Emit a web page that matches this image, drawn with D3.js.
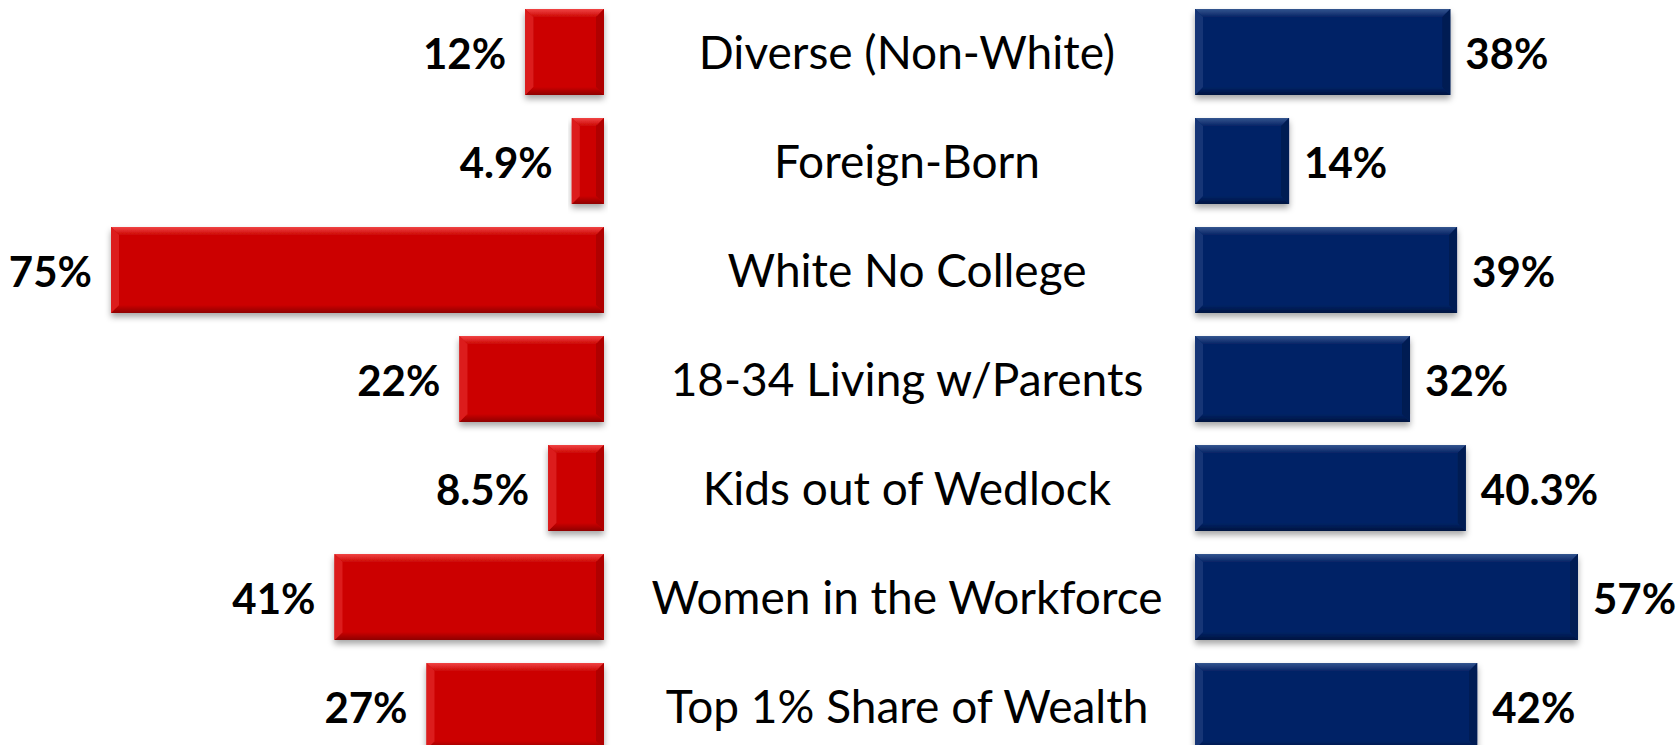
<!DOCTYPE html>
<html lang="en">
  <head>
    <title>Red vs Blue</title>
    <meta charset="utf-8">
    <script src="https://cdn.jsdelivr.net/npm/d3@7"></script>
  </head>
  <style>
    body, html {
      margin: 0;
      padding: 0;
      background: #fff;
      overflow: hidden;
    }
    svg {
      display: block;
    }
    .cat {
      font-family: "Lato", "Open Sans", sans-serif;
      font-size: 46px;
      fill: #000;
    }
    .val {
      font-family: "Lato", "Open Sans", sans-serif;
      font-weight: bold;
      font-size: 42px;
      fill: #000;
    }
  </style>
  <body>
    <svg></svg>
  </body>
  <script>

    // data
    const categories = [
      "Diverse (Non-White)",
      "Foreign-Born",
      "White No College",
      "18-34 Living w/Parents",
      "Kids out of Wedlock",
      "Women in the Workforce",
      "Top 1% Share of Wealth"
    ]
    const redValues = [12, 4.9, 75, 22, 8.5, 41, 27]
    const redLabels = ["12%", "4.9%", "75%", "22%", "8.5%", "41%", "27%"]
    const blueValues = [38, 14, 39, 32, 40.3, 57, 42]
    const blueLabels = ["38%", "14%", "39%", "32%", "40.3%", "57%", "42%"]

    const width = 1679
    const height = 745
    const bevel = 8

    const svg = d3.select('svg')
      .attr('width', width)
      .attr('height', height)

    const y = d3.scaleBand()
      .domain(categories)
      .range([-2.5, 760.5])
      .paddingInner(0.211)
      .paddingOuter(0.1055)

    // the two halves were drawn with slightly different scales
    const xRed = d3.scaleLinear().domain([0, 75]).range([604, 111])
    const xBlue = d3.scaleLinear().domain([0, 57]).range([1195, 1578])

    const defs = svg.append('defs')

    const shadow = defs.append('filter')
      .attr('id', 'shadow')
      .attr('x', '-10%').attr('y', '-10%')
      .attr('width', '120%').attr('height', '130%')
    shadow.append('feDropShadow')
      .attr('dx', 0)
      .attr('dy', 4)
      .attr('stdDeviation', 3)
      .attr('flood-color', '#000')
      .attr('flood-opacity', 0.35)

    const palettes = {
      red:  { main: '#cc0605', top: '#f04444', left: '#dc1e1e', right: '#b00404', bottom: '#8e0303' },
      blue: { main: '#052466', top: '#35558f', left: '#163676', right: '#041c52', bottom: '#021440' }
    }

    // vertical gradients for top/bottom bevel strips
    Object.keys(palettes).forEach(function(k) {
      const p = palettes[k]
      const gTop = defs.append('linearGradient')
        .attr('id', k + 'Top').attr('x1', 0).attr('y1', 0).attr('x2', 0).attr('y2', 1)
      gTop.append('stop').attr('offset', '0%').attr('stop-color', p.top)
      gTop.append('stop').attr('offset', '100%').attr('stop-color', p.main)
      const gBot = defs.append('linearGradient')
        .attr('id', k + 'Bottom').attr('x1', 0).attr('y1', 0).attr('x2', 0).attr('y2', 1)
      gBot.append('stop').attr('offset', '0%').attr('stop-color', p.main)
      gBot.append('stop').attr('offset', '100%').attr('stop-color', p.bottom)
    })

    const drawBar = function(g, x0, x1, y0, h, key) {
      const p = palettes[key]
      const y1 = y0 + h
      const b = Math.min(bevel, (x1 - x0) / 2)
      const bar = g.append('g').attr('filter', 'url(#shadow)')
      bar.append('rect')
        .attr('x', x0).attr('y', y0)
        .attr('width', x1 - x0).attr('height', h)
        .attr('fill', p.main)
      const line = d3.line()
      bar.append('path')
        .attr('d', line([[x0, y0], [x1, y0], [x1 - b, y0 + b], [x0 + b, y0 + b]]) + 'Z')
        .attr('fill', 'url(#' + key + 'Top)')
      bar.append('path')
        .attr('d', line([[x0, y1], [x1, y1], [x1 - b, y1 - b], [x0 + b, y1 - b]]) + 'Z')
        .attr('fill', 'url(#' + key + 'Bottom)')
      bar.append('path')
        .attr('d', line([[x0, y0], [x0 + b, y0 + b], [x0 + b, y1 - b], [x0, y1]]) + 'Z')
        .attr('fill', p.left)
      bar.append('path')
        .attr('d', line([[x1, y0], [x1 - b, y0 + b], [x1 - b, y1 - b], [x1, y1]]) + 'Z')
        .attr('fill', p.right)
    }

    const redG = svg.append('g').attr('id', 'red')
    const blueG = svg.append('g').attr('id', 'blue')
    const textG = svg.append('g').attr('id', 'labels')

    categories.forEach(function(c, i) {
      const top = y(c)
      const h = y.bandwidth()
      const mid = top + h / 2

      drawBar(redG, xRed(redValues[i]), xRed(0), top, h, 'red')
      drawBar(blueG, xBlue(0), xBlue(blueValues[i]), top, h, 'blue')

      textG.append('text')
        .attr('class', 'cat')
        .attr('x', 907)
        .attr('y', mid + 17)
        .attr('text-anchor', 'middle')
        .text(c)

      textG.append('text')
        .attr('class', 'val')
        .attr('x', xRed(redValues[i]) - 19)
        .attr('y', mid + 17)
        .attr('text-anchor', 'end')
        .text(redLabels[i])

      textG.append('text')
        .attr('class', 'val')
        .attr('x', xBlue(blueValues[i]) + 15)
        .attr('y', mid + 17)
        .attr('text-anchor', 'start')
        .text(blueLabels[i])
    })

  </script>
</html>
